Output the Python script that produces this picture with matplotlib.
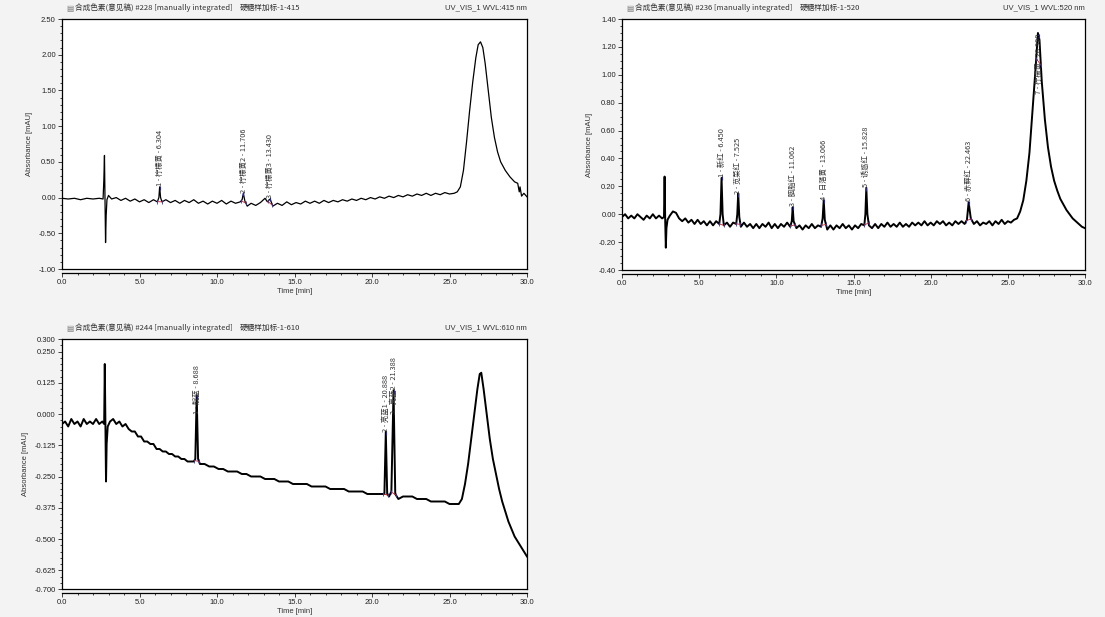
import numpy as np
import matplotlib
matplotlib.use("Agg")
import matplotlib.pyplot as plt
from matplotlib.ticker import MultipleLocator, FixedLocator

plt.rcParams['font.family'] = ['Liberation Sans', 'Noto Sans CJK SC', 'DejaVu Sans']

# ---------------- data ----------------
titles = ["合成色素(意见稿) #228 [manually integrated]",
          "合成色素(意见稿) #236 [manually integrated]",
          "合成色素(意见稿) #244 [manually integrated]"]
samples = ["硬糖样加标-1-415", "硬糖样加标-1-520", "硬糖样加标-1-610"]
channels = ["UV_VIS_1 WVL:415 nm", "UV_VIS_1 WVL:520 nm", "UV_VIS_1 WVL:610 nm"]

t1 = [0.0, 0.4, 0.8, 1.2, 1.6, 2.0, 2.4, 2.65, 2.70, 2.74, 2.77, 2.81, 2.85, 2.90, 3.0, 3.2, 3.5, 3.8,
      4.1, 4.4, 4.7, 5.0, 5.3, 5.6, 5.9, 6.15, 6.25, 6.30, 6.36, 6.45, 6.7, 7.0, 7.3, 7.6, 7.9, 8.2,
      8.5, 8.8, 9.1, 9.4, 9.7, 10.0, 10.3, 10.6, 10.9, 11.2, 11.5, 11.62, 11.70, 11.80, 11.95, 12.2,
      12.5, 12.8, 13.1, 13.25, 13.43, 13.6, 13.9, 14.2, 14.5, 14.8, 15.1, 15.4, 15.7, 16.0, 16.3,
      16.6, 16.9, 17.2, 17.5, 17.8, 18.1, 18.4, 18.7, 19.0, 19.3, 19.6, 19.9, 20.2, 20.5, 20.8, 21.1,
      21.4, 21.7, 22.0, 22.3, 22.6, 22.9, 23.2, 23.5, 23.8, 24.1, 24.4, 24.7, 25.0, 25.3, 25.5, 25.7,
      25.9, 26.1, 26.3, 26.5, 26.7, 26.85, 27.0, 27.15, 27.3, 27.5, 27.7, 27.9, 28.1, 28.3, 28.6,
      28.9, 29.2, 29.4, 29.5, 29.55, 29.65, 29.8, 30.0]
a1 = [-0.01, -0.02, -0.01, -0.03, -0.01, -0.02, -0.01, -0.02, 0.25, 0.59, 0.05, -0.63, -0.25, -0.03,
      0.03, -0.02, 0.00, -0.04, -0.01, -0.05, -0.02, -0.06, -0.03, -0.07, -0.03, -0.06, 0.00, 0.15,
      0.00, -0.06, -0.03, -0.07, -0.04, -0.08, -0.04, -0.07, -0.03, -0.08, -0.05, -0.09, -0.05, -0.08,
      -0.04, -0.09, -0.05, -0.08, -0.06, -0.03, 0.06, -0.05, -0.12, -0.08, -0.11, -0.07, -0.01, -0.06,
      -0.02, -0.12, -0.08, -0.11, -0.06, -0.10, -0.07, -0.09, -0.05, -0.08, -0.05, -0.08, -0.04, -0.07,
      -0.04, -0.06, -0.03, -0.05, -0.02, -0.04, -0.01, -0.03, 0.00, -0.02, 0.01, -0.01, 0.02, 0.00,
      0.03, 0.01, 0.04, 0.02, 0.05, 0.03, 0.06, 0.03, 0.06, 0.04, 0.07, 0.05, 0.06, 0.08, 0.15, 0.38,
      0.78, 1.22, 1.62, 1.96, 2.14, 2.18, 2.10, 1.88, 1.50, 1.12, 0.84, 0.64, 0.50, 0.38, 0.29, 0.22,
      0.20, 0.08, 0.15, 0.02, 0.06, 0.01]

t2 = [0.0, 0.2, 0.4, 0.6, 0.8, 1.0, 1.2, 1.4, 1.6, 1.8, 2.0, 2.2, 2.4, 2.6, 2.72, 2.76, 2.80, 2.84,
      2.88, 2.95, 3.1, 3.3, 3.5, 3.7, 3.9, 4.1, 4.3, 4.5, 4.7, 4.9, 5.1, 5.3, 5.5, 5.7, 5.9, 6.1, 6.3,
      6.38, 6.45, 6.52, 6.6, 6.8, 7.0, 7.2, 7.4, 7.47, 7.53, 7.60, 7.7, 7.9, 8.1, 8.3, 8.5, 8.7, 8.9,
      9.1, 9.3, 9.5, 9.7, 9.9, 10.1, 10.3, 10.5, 10.7, 10.9, 11.0, 11.06, 11.12, 11.3, 11.5, 11.7,
      11.9, 12.1, 12.3, 12.5, 12.7, 12.9, 13.0, 13.07, 13.14, 13.3, 13.5, 13.7, 13.9, 14.1, 14.3,
      14.5, 14.7, 14.9, 15.1, 15.3, 15.5, 15.7, 15.77, 15.83, 15.90, 16.0, 16.2, 16.4, 16.6, 16.8,
      17.0, 17.2, 17.4, 17.6, 17.8, 18.0, 18.2, 18.4, 18.6, 18.8, 19.0, 19.2, 19.4, 19.6, 19.8, 20.0,
      20.2, 20.4, 20.6, 20.8, 21.0, 21.2, 21.4, 21.6, 21.8, 22.0, 22.2, 22.35, 22.46, 22.6, 22.8,
      23.0, 23.2, 23.4, 23.6, 23.8, 24.0, 24.2, 24.4, 24.6, 24.8, 25.0, 25.2, 25.4, 25.6, 25.8, 26.0,
      26.2, 26.4, 26.6, 26.8, 26.95, 27.05, 27.2, 27.4, 27.6, 27.8, 28.0, 28.2, 28.4, 28.6, 28.8,
      29.0, 29.2, 29.4, 29.6, 29.8, 30.0]
a2 = [-0.02, 0.00, -0.03, -0.01, -0.03, 0.00, -0.02, -0.04, -0.01, -0.03, 0.00, -0.03, -0.01, -0.03,
      -0.02, 0.27, -0.05, -0.24, -0.10, -0.04, -0.01, 0.02, 0.01, -0.03, -0.05, -0.03, -0.06, -0.04,
      -0.07, -0.04, -0.07, -0.05, -0.08, -0.05, -0.08, -0.05, -0.07, 0.00, 0.26, 0.00, -0.08, -0.06,
      -0.09, -0.06, -0.07, 0.00, 0.15, -0.02, -0.09, -0.06, -0.09, -0.07, -0.10, -0.07, -0.10, -0.07,
      -0.09, -0.06, -0.10, -0.07, -0.10, -0.07, -0.09, -0.06, -0.09, -0.05, 0.05, -0.05, -0.10, -0.08,
      -0.11, -0.08, -0.10, -0.07, -0.10, -0.08, -0.09, -0.03, 0.10, -0.04, -0.11, -0.08, -0.11, -0.08,
      -0.10, -0.07, -0.10, -0.08, -0.11, -0.08, -0.10, -0.07, -0.08, 0.00, 0.19, 0.00, -0.08, -0.10,
      -0.07, -0.10, -0.07, -0.09, -0.06, -0.09, -0.07, -0.09, -0.06, -0.09, -0.07, -0.09, -0.06, -0.08,
      -0.06, -0.08, -0.05, -0.08, -0.06, -0.08, -0.05, -0.07, -0.05, -0.08, -0.06, -0.08, -0.05, -0.07,
      -0.05, -0.07, -0.04, 0.085, -0.03, -0.07, -0.05, -0.08, -0.06, -0.07, -0.05, -0.08, -0.05, -0.07,
      -0.04, -0.07, -0.05, -0.06, -0.04, -0.03, 0.02, 0.10, 0.24, 0.44, 0.74, 1.05, 1.30, 1.25, 0.95,
      0.68, 0.48, 0.34, 0.24, 0.17, 0.11, 0.07, 0.03, 0.00, -0.03, -0.05, -0.07, -0.09, -0.10]

t3 = [0.0, 0.2, 0.4, 0.6, 0.8, 1.0, 1.2, 1.4, 1.6, 1.8, 2.0, 2.2, 2.4, 2.6,
      2.72, 2.76, 2.80, 2.84, 2.88, 2.95,
      3.1, 3.3, 3.5, 3.7, 3.9, 4.1, 4.3, 4.5, 4.7, 4.9, 5.1, 5.3, 5.5, 5.7, 5.9, 6.1, 6.3,
      6.5, 6.7, 6.9, 7.1, 7.3, 7.5, 7.7, 7.9, 8.1, 8.3, 8.5,
      8.6, 8.69, 8.78, 8.9,
      9.2, 9.5, 9.8,
      10.1, 10.4, 10.7, 11.0, 11.3, 11.6, 11.9,
      12.2, 12.5, 12.8, 13.1, 13.4, 13.7, 14.0,
      14.3, 14.6, 14.9, 15.2, 15.5, 15.8,
      16.1, 16.4, 16.7, 17.0, 17.3, 17.6, 17.9,
      18.2, 18.5, 18.8, 19.1, 19.4, 19.7, 20.0,
      20.3, 20.6, 20.8,
      20.89, 20.98, 21.1, 21.25, 21.39, 21.5, 21.7,
      22.0, 22.3, 22.6, 22.9, 23.2, 23.5, 23.8,
      24.1, 24.4, 24.7, 25.0, 25.3, 25.6,
      25.8, 26.0, 26.2, 26.4, 26.6, 26.8,
      26.95, 27.05, 27.2, 27.4, 27.6, 27.8, 28.0,
      28.2, 28.4, 28.6, 28.8, 29.0,
      29.2, 29.4, 29.6, 29.8, 30.0]
a3 = [-0.04, -0.03, -0.05, -0.02, -0.04, -0.03, -0.05, -0.02, -0.04, -0.03, -0.04, -0.02, -0.04, -0.03,
      -0.04, 0.20, -0.05, -0.27, -0.12, -0.05,
      -0.03, -0.02, -0.04, -0.03, -0.05, -0.04, -0.06, -0.07, -0.07, -0.09, -0.09, -0.11, -0.11, -0.12,
      -0.12, -0.14, -0.14,
      -0.15, -0.15, -0.16, -0.16, -0.17, -0.17, -0.18, -0.18, -0.19, -0.19, -0.19,
      -0.18, 0.075, -0.18, -0.20,
      -0.20, -0.21, -0.21,
      -0.22, -0.22, -0.23, -0.23, -0.23, -0.24, -0.24,
      -0.25, -0.25, -0.25, -0.26, -0.26, -0.26, -0.27,
      -0.27, -0.27, -0.28, -0.28, -0.28, -0.28,
      -0.29, -0.29, -0.29, -0.29, -0.30, -0.30, -0.30,
      -0.30, -0.31, -0.31, -0.31, -0.31, -0.32, -0.32,
      -0.32, -0.32, -0.32,
      -0.07, -0.32, -0.33, -0.31, 0.095, -0.32, -0.34,
      -0.33, -0.33, -0.33, -0.34, -0.34, -0.34, -0.35,
      -0.35, -0.35, -0.35, -0.36, -0.36, -0.36,
      -0.34, -0.28, -0.20, -0.10, 0.00, 0.10,
      0.16, 0.165, 0.10, 0.00, -0.10, -0.18, -0.24,
      -0.30, -0.35, -0.39, -0.43, -0.46,
      -0.49, -0.51, -0.53, -0.55, -0.57]

pk1_times = [6.304, 11.706, 13.430]
pk1_names = ["1 - 柠檬黄 - 6.304", "2 - 柠檬黄2 - 11.706", "3 - 柠檬黄3 - 13.430"]
pk2_times = [6.450, 7.525, 11.062, 13.066, 15.828, 22.463, 26.990]
pk2_names = ["1 - 新红 - 6.450", "2 - 苋菜红 - 7.525", "3 - 胭脂红 - 11.062", "4 - 日落黄 - 13.066",
             "5 - 诱惑红 - 15.828", "6 - 赤藓红 - 22.463", "7 - 柠檬黄 - 26.990"]
pk3_times = [8.688, 20.888, 21.388]
pk3_names = ["1 - 靛蓝 - 8.688", "2 - 亮蓝1 - 20.888", "3 - 亮蓝2 - 21.388"]

ylims = [(-1.0, 2.5), (-0.4, 1.4), (-0.7, 0.3)]
yticks = [[-1.0, -0.5, 0.0, 0.5, 1.0, 1.5, 2.0, 2.5],
          [-0.4, -0.2, 0.0, 0.2, 0.4, 0.6, 0.8, 1.0, 1.2, 1.4],
          [-0.700, -0.625, -0.500, -0.375, -0.250, -0.125, 0.000, 0.125, 0.250, 0.300]]
yfmts = ["%.2f", "%.2f", "%.3f"]
yminor = [0.1, 0.05, 0.025]

# ---------------- figure ----------------
W, H = 1105, 617
fig = plt.figure(figsize=(W / 100, H / 100), dpi=100)
fig.patch.set_facecolor('#f3f3f3')

boxes = [(62, 19, 527, 269), (622, 19, 1085, 270), (62, 339, 527, 589)]
traces = [(t1, a1), (t2, a2), (t3, a3)]
peaks = [(pk1_times, pk1_names), (pk2_times, pk2_names), (pk3_times, pk3_names)]
widths = [0.9, 1.4, 1.4]
cjk = ['Noto Sans CJK SC', 'DejaVu Sans']

for i in range(3):
    x0, y0, x1, y1 = boxes[i]
    ax = fig.add_axes([x0 / W, 1 - y1 / H, (x1 - x0) / W, (y1 - y0) / H])
    ax.set_facecolor('white')
    t, a = traces[i]
    ax.plot(t, a, color='black', lw=widths[i], zorder=3)
    ax.set_xlim(0, 30)
    ax.set_ylim(*ylims[i])
    ax.set_xticks(np.arange(0, 31, 5))
    ax.xaxis.set_minor_locator(MultipleLocator(1))
    ax.set_xticklabels(["%.1f" % v for v in np.arange(0, 31, 5)])
    ax.yaxis.set_major_locator(FixedLocator(yticks[i]))
    ax.set_yticklabels([yfmts[i] % v for v in yticks[i]])
    ax.yaxis.set_minor_locator(MultipleLocator(yminor[i]))
    ax.tick_params(which='both', direction='out', width=0.6, colors='#222222',
                   labelsize=5.5, pad=1.5)
    ax.tick_params(which='major', length=3)
    ax.tick_params(which='minor', length=1.5)
    for s in ax.spines.values():
        s.set_linewidth(0.9)
        s.set_color('black')
    ax.spines['bottom'].set_position(('outward', 3))
    ax.plot([0, 1], [0, 0], transform=ax.transAxes, color='black', lw=0.9, clip_on=False)
    ax.set_xlabel("Time [min]", fontsize=5.5, color='#333333', labelpad=1)
    ax.set_ylabel("Absorbance [mAU]", fontsize=5.5, color='#333333', labelpad=4)

    # peak labels and integration marks
    ptimes, pnames = peaks[i]
    yr = ylims[i][1] - ylims[i][0]
    for pt, nm in zip(ptimes, pnames):
        top = float(np.interp(pt, t, a))
        ax.plot([pt], [top], marker='|', color='#2222aa', ms=3, mew=0.8, zorder=4)
        ly = top + 0.005 * yr
        if ly > ylims[i][1] - 0.3 * yr:
            ly = ylims[i][1] - 0.3 * yr
        ax.text(pt, ly, nm, rotation=90, ha='center', va='bottom', clip_on=True,
                fontsize=5.3, color='#333333', family=cjk, zorder=5)
        bl = float(np.interp(pt - 0.15, t, a))
        br = float(np.interp(pt + 0.15, t, a))
        ax.plot([pt - 0.15, pt + 0.15], [bl, br], color='#cc2222', lw=0.6, zorder=4)
        ax.plot([pt - 0.15, pt + 0.15], [bl, br], ls='none', marker='|', color='#3333aa',
                ms=3, mew=0.6, zorder=4)

    # header texts
    hy = 1 - (y0 - 11) / H
    fig.text((x0 + 4) / W, hy, "▤", fontsize=5.5, color='#777777', va='center',
             family=['DejaVu Sans'])
    fig.text((x0 + 13) / W, hy, titles[i], fontsize=5.5, color='#333333', va='center',
             family=cjk)
    fig.text((x0 + 178) / W, hy, samples[i], fontsize=5.5, color='#333333', va='center',
             family=cjk)
    fig.text(x1 / W, hy, channels[i], fontsize=5.5, color='#333333', va='center',
             ha='right')

fig.savefig("out.png", dpi=100, facecolor=fig.get_facecolor())
